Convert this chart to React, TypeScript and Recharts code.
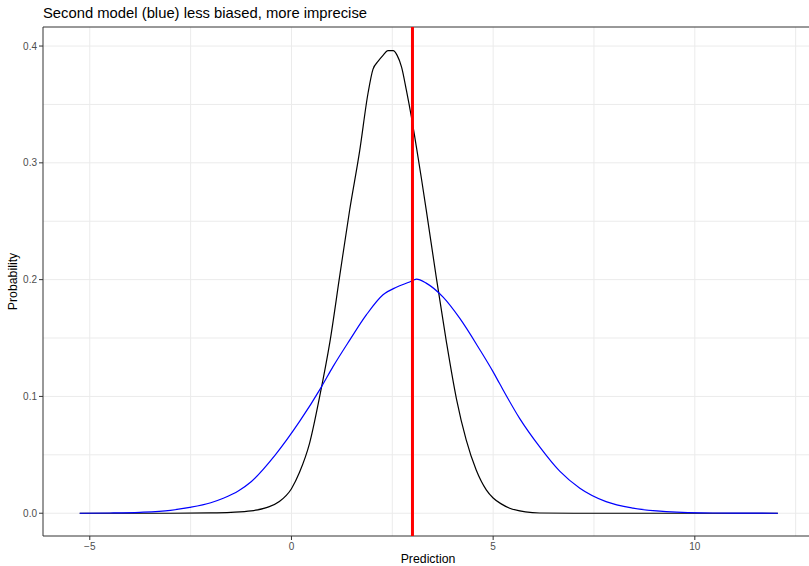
import {
  LineChart,
  Line,
  XAxis,
  YAxis,
  CartesianGrid,
  ReferenceLine,
  ReferenceArea,
} from "recharts";

// densities
const blackX = [
  -5.25, -3, -2, -1.5, -1, -0.6, -0.3, 0, 0.2, 0.45, 0.7, 0.95, 1.2, 1.44, 1.69,
  1.9, 2.02, 2.15, 2.27, 2.39, 2.52, 2.62, 2.73, 2.85, 2.97, 3.1, 3.22, 3.34,
  3.59, 3.84, 4.09, 4.33, 4.58, 4.83, 5.0, 5.2, 5.41, 5.8, 6.15, 7, 12.06,
];
const blackDensity = [
  0, 0, 0.0003, 0.0008, 0.002, 0.005, 0.01, 0.021, 0.035, 0.06, 0.1, 0.146,
  0.204, 0.259, 0.31, 0.36, 0.38, 0.387, 0.392, 0.396, 0.396, 0.392, 0.382,
  0.362, 0.34, 0.313, 0.287, 0.26, 0.202, 0.147, 0.098, 0.063, 0.037, 0.02,
  0.013, 0.008, 0.0043, 0.0012, 0.0002, 0, 0,
];

const blueX = [
  -5.25, -4.5, -3.76, -3, -2.52, -2, -1.69, -1.3, -1, -0.4, 0.21, 0.74, 1.03,
  1.44, 1.86, 2.27, 2.6, 2.93, 3.1, 3.34, 3.76, 4.17, 4.67, 5.0, 5.16, 5.66,
  6.15, 6.65, 7.15, 7.8, 8.47, 9.29, 10.45, 12.06,
];
const blueDensity = [
  0, 0.0002, 0.0008, 0.0025, 0.005, 0.009, 0.0128, 0.0195, 0.027, 0.05, 0.079,
  0.108, 0.1255, 0.148, 0.17, 0.187, 0.1935, 0.198, 0.2005, 0.197, 0.185,
  0.167, 0.14, 0.121, 0.111, 0.081, 0.057, 0.036, 0.0214, 0.0099, 0.0043,
  0.0014, 0.0002, 0,
];

const xTicks = [-5, 0, 5, 10];
const yTicks = [0, 0.1, 0.2, 0.3, 0.4];
const xGrid = [-5, -2.5, 0, 2.5, 5, 7.5, 10, 12.5];
const yGrid = [0, 0.05, 0.1, 0.15, 0.2, 0.25, 0.3, 0.35, 0.4];
const trueValue = 3;

const xDomain = [-6.16, 12.93];
const yDomain = [-0.0195, 0.4163];

const blackData = blackX.map((x, i) => ({ x, y: blackDensity[i] }));
const blueData = blueX.map((x, i) => ({ x, y: blueDensity[i] }));

const font = '"Liberation Sans", Arial, sans-serif';
const tickStyle = { fill: "#4D4D4D", fontSize: 10, fontFamily: font };

export default function App() {
  return (
    <div
      style={{
        position: "absolute",
        top: 0,
        left: 0,
        width: 809,
        height: 566,
        overflow: "hidden",
        background: "white",
        fontFamily: font,
      }}
    >
      <div
        style={{
          position: "absolute",
          left: 43,
          top: 7,
          fontSize: 14.8,
          lineHeight: "13px",
          color: "#000",
          whiteSpace: "nowrap",
        }}
      >
        Second model (blue) less biased, more imprecise
      </div>
      <LineChart
        width={813}
        height={566}
        margin={{ top: 27, right: 0, bottom: 0, left: 0 }}
      >
        <CartesianGrid
          stroke="#EBEBEB"
          strokeWidth={1}
          verticalValues={xGrid}
          horizontalValues={yGrid}
        />
        <XAxis
          type="number"
          dataKey="x"
          domain={xDomain}
          ticks={xTicks}
          allowDataOverflow
          height={30}
          axisLine={false}
          tickLine={{ stroke: "#333333" }}
          tickSize={4}
          tickMargin={3}
          tick={tickStyle}
          tickFormatter={(v: number) => (v < 0 ? "\u2212" + Math.abs(v) : String(v))}
          label={{
            value: "Prediction",
            position: "insideBottom",
            offset: 3,
            fill: "#000",
            fontSize: 12.3,
            fontFamily: font,
          }}
        />
        <YAxis
          type="number"
          domain={yDomain}
          ticks={yTicks}
          allowDataOverflow
          width={43}
          axisLine={false}
          tickLine={{ stroke: "#333333" }}
          tickSize={4}
          tickMargin={2}
          tick={tickStyle}
          tickFormatter={(v: number) => v.toFixed(1)}
          label={{
            value: "Probability",
            angle: -90,
            position: "center",
            dx: -9,
            fill: "#000",
            fontSize: 12.3,
            fontFamily: font,
          }}
        />
        <ReferenceArea
          x1={xDomain[0]}
          x2={xDomain[1]}
          y1={yDomain[0]}
          y2={yDomain[1]}
          fill="none"
          fillOpacity={0}
          stroke="#333333"
          strokeWidth={1}
          ifOverflow="visible"
        />
        <Line
          data={blackData}
          dataKey="y"
          type="monotone"
          stroke="#000000"
          strokeWidth={1.2}
          dot={false}
          isAnimationActive={false}
        />
        <Line
          data={blueData}
          dataKey="y"
          type="monotone"
          stroke="#0000FF"
          strokeWidth={1.2}
          dot={false}
          isAnimationActive={false}
        />
        <ReferenceLine x={trueValue} stroke="#FF0000" strokeWidth={3} />
      </LineChart>
    </div>
  );
}
